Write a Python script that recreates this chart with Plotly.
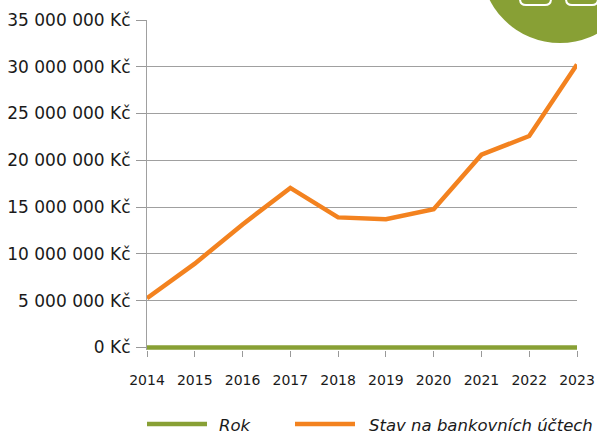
import plotly.graph_objects as go

years = [2014, 2015, 2016, 2017, 2018, 2019, 2020, 2021, 2022, 2023]
rok = [2014, 2015, 2016, 2017, 2018, 2019, 2020, 2021, 2022, 2023]
stav = [5250000, 8950000, 13150000, 17050000, 13900000, 13700000, 14780000, 20600000, 22600000, 30250000]
series_names = ["Rok", "Stav na bankovních účtech"]
series_colors = ["#88A035", "#F3821F"]
y_tickvals = [0, 5000000, 10000000, 15000000, 20000000, 25000000, 30000000, 35000000]
y_ticktext = ["0 Kč", "5 000 000 Kč", "10 000 000 Kč", "15 000 000 Kč", "20 000 000 Kč",
              "25 000 000 Kč", "30 000 000 Kč", "35 000 000 Kč"]

W, H = 597, 432
L, R, T, B = 147, 20, 20, 82
pw, ph = W - L - R, H - T - B
y_top = 35000000
# extend the axis slightly below zero so the zero-level line is not half clipped
pad_px = 2.6
y_bot = -pad_px * y_top / (ph - pad_px)


def px(x):
    return (x - L) / pw


def py(y):
    return (H - B - y) / ph


fig = go.Figure()
fig.add_trace(go.Scatter(x=years, y=stav, mode="lines", name=series_names[1],
                         line=dict(color=series_colors[1], width=4.5), showlegend=False))
fig.add_trace(go.Scatter(x=years, y=rok, mode="lines", name=series_names[0],
                         line=dict(color=series_colors[0], width=4.5), showlegend=False))

shapes = []
# decorative logo circle
shapes.append(dict(type="circle", xref="paper", yref="paper",
                   x0=px(481), x1=px(639), y0=py(43), y1=py(-115),
                   fillcolor="#88A035", line=dict(width=0), layer="above"))


def rrect_bottom(x0, x1, yb, r=6):
    return (f"M{px(x0)},{py(-10)} L{px(x0)},{py(yb - r)} "
            f"Q{px(x0)},{py(yb)} {px(x0 + r)},{py(yb)} "
            f"L{px(x1 - r)},{py(yb)} Q{px(x1)},{py(yb)} {px(x1)},{py(yb - r)} "
            f"L{px(x1)},{py(-10)}")


for (a, b) in [(520, 551), (566, 598)]:
    shapes.append(dict(type="path", xref="paper", yref="paper", path=rrect_bottom(a, b, 5),
                       line=dict(color="white", width=2), layer="above"))

# legend
leg_y = py(424)
text_y = py(425)
shapes.append(dict(type="line", xref="paper", yref="paper", x0=px(147), x1=px(207),
                   y0=leg_y, y1=leg_y, line=dict(color=series_colors[0], width=4.5)))
shapes.append(dict(type="line", xref="paper", yref="paper", x0=px(295), x1=px(355),
                   y0=leg_y, y1=leg_y, line=dict(color=series_colors[1], width=4.5)))

annotations = [
    dict(text=f"<i>{series_names[0]}</i>", xref="paper", yref="paper", x=px(217), y=text_y,
         xanchor="left", yanchor="middle", showarrow=False,
         font=dict(family="DejaVu Sans", size=16.5, color="#1a1a1a")),
    dict(text=f"<i>{series_names[1]}</i>", xref="paper", yref="paper", x=px(367), y=text_y,
         xanchor="left", yanchor="middle", showarrow=False,
         font=dict(family="DejaVu Sans", size=16.5, color="#1a1a1a")),
]

fig.update_layout(
    width=W, height=H,
    margin=dict(l=L, r=R, t=T, b=B, pad=0, autoexpand=False),
    paper_bgcolor="white", plot_bgcolor="white",
    shapes=shapes, annotations=annotations,
    showlegend=False,
    xaxis=dict(range=[2014, 2023], tickmode="array", tickvals=years, automargin=False,
               ticktext=[str(y) for y in years], ticks="outside", ticklen=6,
               tickcolor="#999999", tickwidth=1, showgrid=False, zeroline=False,
               showline=False, ticklabelstandoff=11,
               tickfont=dict(family="DejaVu Sans", size=14, color="#1a1a1a")),
    yaxis=dict(range=[y_bot, y_top], tickmode="array", tickvals=y_tickvals, automargin=False,
               ticktext=y_ticktext, ticks="outside", ticklen=10, tickcolor="#999999",
               tickwidth=1, showgrid=True, gridcolor="#A0A0A0", gridwidth=1.2,
               zeroline=False, showline=True, linecolor="#A0A0A0", linewidth=1.2,
               ticklabelstandoff=2,
               tickfont=dict(family="DejaVu Sans", size=17, color="#1a1a1a")),
)

fig.write_html("out.html", config={"displayModeBar": False},
               post_script="document.body.style.margin='0';document.body.style.overflow='hidden';")
